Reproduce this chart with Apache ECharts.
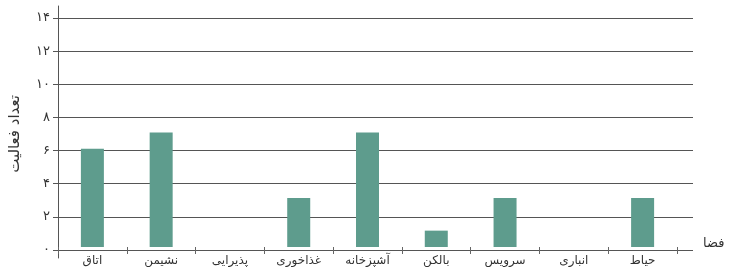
<!DOCTYPE html>
<html>
<head>
<meta charset="utf-8">
<script src="https://cdn.jsdelivr.net/npm/echarts@6/dist/echarts.min.js"></script>
<style>
  html, body { margin: 0; padding: 0; background: #fff; }
  #chart { width: 741px; height: 267px; }
</style>
</head>
<body>
<div id="chart"></div>
<script>
// فضاها، از چپ به راست
const categories = ["اتاق", "نشیمن", "پذیرایی", "غذاخوری", "آشپزخانه", "بالکن", "سرویس", "انباری", "حیاط"];
const activityCounts = [6, 7, 0, 3, 7, 1, 3, 0, 3];
const yTicks = [0, 2, 4, 6, 8, 10, 12, 14];

const faDigits = "۰۱۲۳۴۵۶۷۸۹";
const toFa = (n) => String(n).replace(/\d/g, (d) => faDigits[d]);

const font = "DejaVu Sans";
const lineColor = "#555";

let chart = echarts.init(document.getElementById("chart"));
const option = {
  animation: false,
  grid: [
    { left: 58, right: 48, top: 18, bottom: 17 }, // gridlines
    { left: 58, right: 64, top: 18, bottom: 17 }, // bars
    { left: 58, right: 48, top: 6, bottom: 9 },   // long y axis line
  ],
  xAxis: [
    {
      gridIndex: 0,
      type: "value",
      axisLine: { show: false },
      axisTick: { show: false },
      axisLabel: { show: false },
      splitLine: { show: false },
      name: "فضا",
      nameLocation: "end",
      nameGap: 10,
      nameTextStyle: { fontFamily: font, fontSize: 13, color: "#333", verticalAlign: "bottom" },
    },
    {
      gridIndex: 1,
      type: "category",
      data: categories,
      axisLine: { show: false },
      axisTick: { show: true, length: 7, lineStyle: { color: "#666" } },
      axisLabel: { fontFamily: font, fontSize: 12, color: "#333", margin: 8 },
    },
    { gridIndex: 2, type: "value", show: false },
  ],
  yAxis: [
    {
      gridIndex: 0,
      type: "value",
      min: 0,
      max: 14,
      interval: 2,
      axisLine: { show: false },
      axisTick: { show: true, length: 6, lineStyle: { color: lineColor } },
      axisLabel: {
        fontFamily: font,
        fontSize: 13,
        color: "#333",
        margin: 9,
        formatter: (v) => (yTicks.includes(v) ? toFa(v) : ""),
      },
      splitLine: { lineStyle: { color: lineColor, width: 1 } },
      name: "تعداد فعالیت",
      nameLocation: "middle",
      nameRotate: 90,
      nameGap: 36,
      nameTextStyle: { fontFamily: font, fontSize: 15, color: "#333" },
    },
    { gridIndex: 1, type: "value", min: 0, max: 14, show: false },
    {
      gridIndex: 2,
      type: "value",
      axisLine: { show: true, lineStyle: { color: lineColor } },
      axisTick: { show: false },
      axisLabel: { show: false },
      splitLine: { show: false },
    },
  ],
  series: [
    {
      type: "bar",
      xAxisIndex: 1,
      yAxisIndex: 1,
      data: activityCounts,
      barWidth: 23,
      itemStyle: { color: "#5e9c8d" },
    },
  ],
};
chart.setOption(option);
</script>
</body>
</html>
